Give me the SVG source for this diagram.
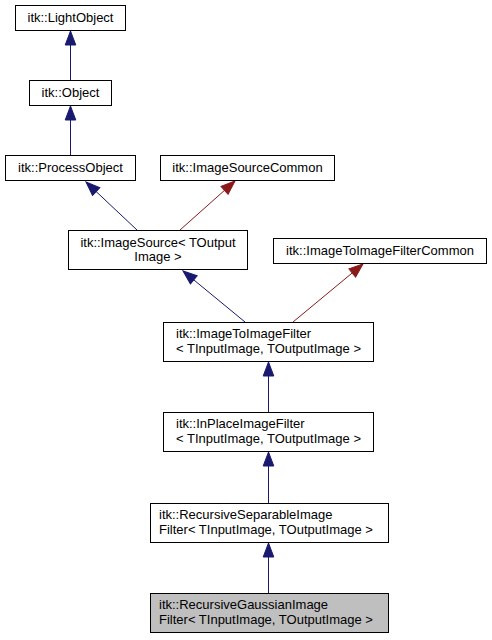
<svg xmlns="http://www.w3.org/2000/svg" width="492" height="640" viewBox="0 0 492 640">
<style>
  .box { fill: #ffffff; stroke: #000000; stroke-width: 1; }
  .cur { fill: #bfbfbf; stroke: #000000; stroke-width: 1; }
  .lbl { font-family: "Liberation Sans", Arial, sans-serif; font-size: 13px; fill: #000000; }
  .mid { text-anchor: middle; }
  .blue { stroke: #191970; stroke-width: 1; fill: none; }
  .red { stroke: #8b1a1a; stroke-width: 1; fill: none; }
</style>
<defs>
  <marker id="ab" markerUnits="userSpaceOnUse" markerWidth="16" markerHeight="13" viewBox="-1 -6.5 16 13" refX="14" refY="0" orient="auto">
    <path d="M0,-5.3 L14,0 L0,5.3 z" fill="#191970" stroke="#191970" stroke-width="1"/>
  </marker>
  <marker id="ar" markerUnits="userSpaceOnUse" markerWidth="16" markerHeight="13" viewBox="-1 -6.5 16 13" refX="14" refY="0" orient="auto">
    <path d="M0,-5.3 L14,0 L0,5.3 z" fill="#8b1a1a" stroke="#8b1a1a" stroke-width="1"/>
  </marker>
</defs>
<rect width="492" height="640" fill="#ffffff"/>
<g id="edges">
  <path class="blue" d="M70.5,80 L70.5,31" marker-end="url(#ab)"/>
  <path class="blue" d="M70.5,155 L70.5,106" marker-end="url(#ab)"/>
  <path class="blue" d="M137,230 L86,182" marker-end="url(#ab)"/>
  <path class="red" d="M180,230 L235,181" marker-end="url(#ar)"/>
  <path class="blue" d="M245,322 L183,271" marker-end="url(#ab)"/>
  <path class="red" d="M293,322 L363,264" marker-end="url(#ar)"/>
  <path class="blue" d="M268.5,412 L268.5,362" marker-end="url(#ab)"/>
  <path class="blue" d="M268.5,503 L268.5,452" marker-end="url(#ab)"/>
  <path class="blue" d="M268.5,593 L268.5,543" marker-end="url(#ab)"/>
</g>
<g id="node-lightobject">
  <rect class="box" x="15.5" y="5.5" width="110" height="25"/>
  <text class="lbl mid" x="70.5" y="22">itk::LightObject</text>
</g>
<g id="node-object">
  <rect class="box" x="29.5" y="80.5" width="82" height="25"/>
  <text class="lbl mid" x="70.5" y="97">itk::Object</text>
</g>
<g id="node-processobject">
  <rect class="box" x="5.5" y="155.5" width="130" height="25"/>
  <text class="lbl mid" x="70.5" y="172">itk::ProcessObject</text>
</g>
<g id="node-imagesourcecommon">
  <rect class="box" x="160.5" y="155.5" width="174" height="25"/>
  <text class="lbl mid" x="247.5" y="172">itk::ImageSourceCommon</text>
</g>
<g id="node-imagesource">
  <rect class="box" x="68.5" y="230.5" width="179" height="39"/>
  <text class="lbl mid" x="158" y="246.5">itk::ImageSource&lt; TOutput</text>
  <text class="lbl mid" x="158" y="261">Image &gt;</text>
</g>
<g id="node-imagetoimagefiltercommon">
  <rect class="box" x="273.5" y="238.5" width="213" height="25"/>
  <text class="lbl mid" x="380" y="255">itk::ImageToImageFilterCommon</text>
</g>
<g id="node-imagetoimagefilter">
  <rect class="box" x="163.5" y="322.5" width="210" height="39"/>
  <text class="lbl" x="176" y="338">itk::ImageToImageFilter</text>
  <text class="lbl" x="176" y="352.5">&lt; TInputImage, TOutputImage &gt;</text>
</g>
<g id="node-inplaceimagefilter">
  <rect class="box" x="163.5" y="412.5" width="210" height="39"/>
  <text class="lbl" x="176" y="428">itk::InPlaceImageFilter</text>
  <text class="lbl" x="176" y="442.5">&lt; TInputImage, TOutputImage &gt;</text>
</g>
<g id="node-recursiveseparable">
  <rect class="box" x="150.5" y="503.5" width="238" height="39"/>
  <text class="lbl" x="159" y="519">itk::RecursiveSeparableImage</text>
  <text class="lbl" x="159" y="533.5">Filter&lt; TInputImage, TOutputImage &gt;</text>
</g>
<g id="node-recursivegaussian">
  <rect class="cur" x="150.5" y="593.5" width="238" height="39"/>
  <text class="lbl" x="159" y="609">itk::RecursiveGaussianImage</text>
  <text class="lbl" x="159" y="623.5">Filter&lt; TInputImage, TOutputImage &gt;</text>
</g>
</svg>
